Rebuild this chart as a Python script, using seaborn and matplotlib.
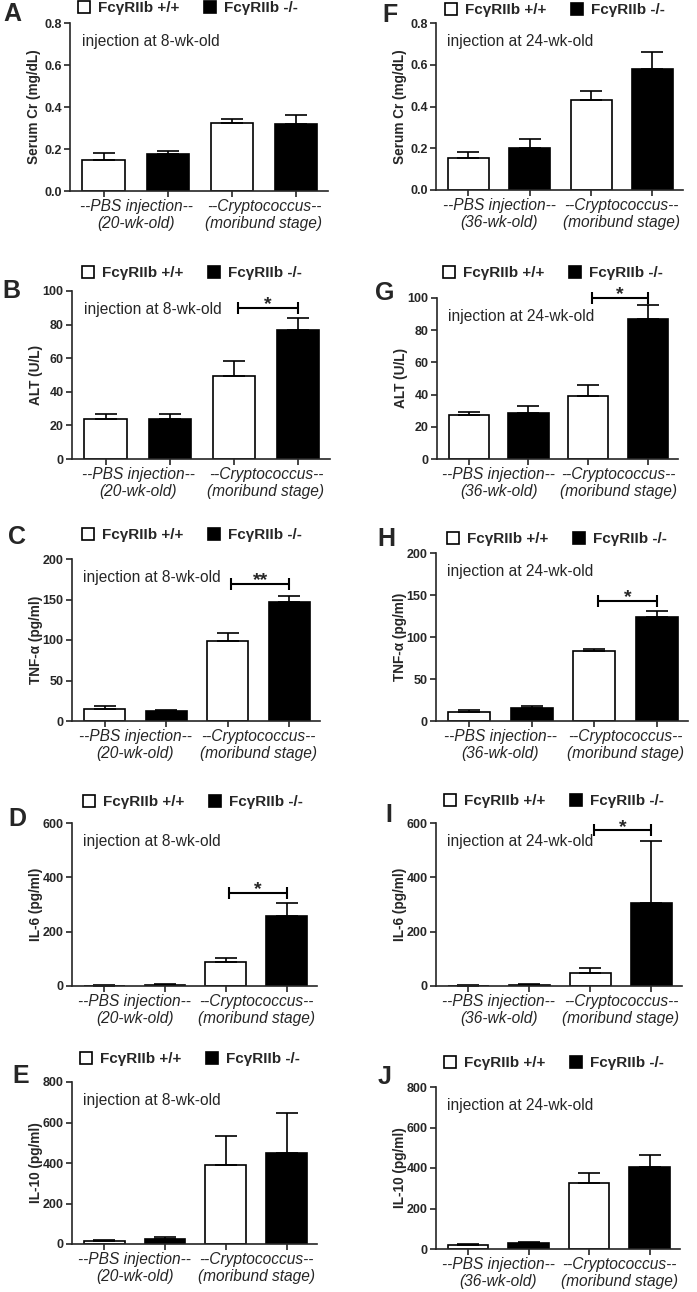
import matplotlib
matplotlib.use("Agg")
import matplotlib.pyplot as plt
from matplotlib.patches import Patch
from matplotlib.ticker import FormatStrFormatter
import pandas as pd
import seaborn as sns

sns.set_style("ticks")
plt.rcParams["font.family"] = ["Liberation Sans", "DejaVu Sans"]

W, H = 697, 1292

# --- data (mean, SEM) ---
genotypes = ["FcγRIIb +/+", "FcγRIIb -/-"]
bar_genotype = [genotypes[0], genotypes[1], genotypes[0], genotypes[1]]
bar_names = ["PBS +/+", "PBS -/-", "Crypto +/+", "Crypto -/-"]
groups_8wk = ["--PBS injection--\n(20-wk-old)", "--Cryptococcus--\n(moribund stage)"]
groups_24wk = ["--PBS injection--\n(36-wk-old)", "--Cryptococcus--\n(moribund stage)"]

cr_8_mean = [0.148, 0.177, 0.326, 0.318]
cr_8_sem = [0.032, 0.013, 0.019, 0.045]
cr_24_mean = [0.152, 0.203, 0.432, 0.579]
cr_24_sem = [0.032, 0.040, 0.043, 0.080]

alt_8_mean = [23.8, 23.8, 49.3, 77.0]
alt_8_sem = [2.9, 2.9, 9.1, 7.0]
alt_24_mean = [27.3, 28.7, 39.0, 86.8]
alt_24_sem = [1.6, 4.3, 6.9, 9.1]

tnf_8_mean = [15.3, 12.8, 99.2, 147.0]
tnf_8_sem = [2.9, 0.4, 9.8, 7.5]
tnf_24_mean = [10.7, 15.9, 82.9, 123.8]
tnf_24_sem = [2.0, 2.0, 2.4, 7.5]

il6_8_mean = [1.5, 5.0, 88.7, 257.5]
il6_8_sem = [0.5, 1.2, 14.8, 46.5]
il6_24_mean = [1.5, 5.0, 48.0, 306.8]
il6_24_sem = [0.5, 2.0, 18.5, 225.2]

il10_8_mean = [16.5, 23.0, 388.0, 448.0]
il10_8_sem = [1.5, 10.0, 144.0, 198.0]
il10_24_mean = [19.8, 28.0, 325.0, 402.6]
il10_24_sem = [3.2, 8.0, 49.5, 59.4]

PALETTE = {genotypes[0]: "white", genotypes[1]: "black"}

# letter, mean, sem, ylabel, ymax, ystep, age, groups, sig(y, label),
# axes box px (left, top, right, bottom), legend px (x, y), letter px (x, y)
panels = [
    ("A", cr_8_mean, cr_8_sem, "Serum Cr (mg/dL)", 0.8, 0.2, "8", groups_8wk, None,
     (70, 23, 328, 191), (78, 8), (3, 14)),
    ("B", alt_8_mean, alt_8_sem, "ALT (U/L)", 100, 20, "8", groups_8wk, (90, "*"),
     (72, 291, 330, 459), (82, 273), (2, 291)),
    ("C", tnf_8_mean, tnf_8_sem, "TNF-α (pg/ml)", 200, 50, "8", groups_8wk, (169, "**"),
     (72, 559, 320, 721), (82, 535), (8, 537)),
    ("D", il6_8_mean, il6_8_sem, "IL-6 (pg/ml)", 600, 200, "8", groups_8wk, (344, "*"),
     (72, 823, 317, 986), (83, 802), (8, 819)),
    ("E", il10_8_mean, il10_8_sem, "IL-10 (pg/ml)", 800, 200, "8", groups_8wk, None,
     (72, 1082, 317, 1244), (80, 1059), (12, 1076)),
    ("F", cr_24_mean, cr_24_sem, "Serum Cr (mg/dL)", 0.8, 0.2, "24", groups_24wk, None,
     (436, 23, 683, 190), (445, 10), (382, 15)),
    ("G", alt_24_mean, alt_24_sem, "ALT (U/L)", 100, 20, "24", groups_24wk, (100, "*"),
     (437, 298, 678, 459), (443, 273), (375, 293)),
    ("H", tnf_24_mean, tnf_24_sem, "TNF-α (pg/ml)", 200, 50, "24", groups_24wk, (143, "*"),
     (436, 553, 688, 721), (447, 539), (377, 539)),
    ("I", il6_24_mean, il6_24_sem, "IL-6 (pg/ml)", 600, 200, "24", groups_24wk, (573, "*"),
     (436, 823, 682, 986), (444, 801), (385, 815)),
    ("J", il10_24_mean, il10_24_sem, "IL-10 (pg/ml)", 800, 200, "24", groups_24wk, None,
     (436, 1087, 680, 1249), (444, 1063), (378, 1077)),
]

LW = 1.2
fig = plt.figure(figsize=(W / 100, H / 100), dpi=100)


def draw_panel(letter, mean, sem, ylabel, ymax, ystep, age, groups, sig, box, leg, lpos):
    l, t, r, b = box
    ax = fig.add_axes([l / W, 1 - b / H, (r - l) / W, (b - t) / H])
    df = pd.DataFrame({"bar": bar_names, "genotype": bar_genotype, "value": mean})
    sns.barplot(data=df, x="bar", y="value", hue="genotype", order=bar_names,
                palette=PALETTE, dodge=False, width=0.67, errorbar=None,
                edgecolor="black", linewidth=LW, legend=False, ax=ax)
    ax.errorbar(range(4), mean, yerr=[[0] * 4, sem], fmt="none", ecolor="black",
                elinewidth=LW, capsize=8, capthick=LW, zorder=1)
    ax.set_xlim(-0.53, 3.5)
    ax.set_ylim(0, ymax)
    n = int(round(ymax / ystep))
    ax.set_yticks([i * ystep for i in range(n + 1)])
    if ymax < 1:
        ax.yaxis.set_major_formatter(FormatStrFormatter("%.1f"))
    ax.set_xticks(range(4))
    ax.set_xticklabels([""] * 4)
    ax.set_xlabel("")
    ax.set_ylabel(ylabel, fontsize=9.8, fontweight="bold")
    ax.yaxis.set_label_coords(-29 / (r - l), 0.5)
    for lab in ax.get_yticklabels():
        lab.set_fontweight("bold")
        lab.set_fontsize(9)
    ax.tick_params(width=LW, length=4, pad=2)
    sns.despine(ax=ax)
    for s in ("left", "bottom"):
        ax.spines[s].set_linewidth(LW)

    for gx, g in zip((0.5, 2.5), groups):
        ax.annotate(g, xy=(gx, 0), xycoords=("data", "axes fraction"),
                    xytext=(0, -6), textcoords="offset points",
                    ha="center", va="top", fontsize=11.2, style="italic",
                    linespacing=1.15)

    ax.text(0.045, 0.888, f"injection at {age}-wk-old", transform=ax.transAxes,
            fontsize=11.2, va="center", ha="left")

    if sig is not None:
        y, star = sig
        ax.plot([2.06, 3.0], [y, y], color="black", lw=1.5, marker="|",
                markersize=8, mew=1.5, clip_on=False)
        ax.annotate(star, xy=(2.53, y), xytext=(0, -1), textcoords="offset points",
                    ha="center", va="baseline", fontsize=14, fontweight="bold",
                    annotation_clip=False)

    handles = [Patch(facecolor=PALETTE[g], edgecolor="black", linewidth=LW) for g in genotypes]
    ax.legend(handles, genotypes, loc="center left",
              bbox_to_anchor=(leg[0] / W, 1 - leg[1] / H), bbox_transform=fig.transFigure,
              ncol=2, frameon=False, borderpad=0, borderaxespad=0,
              handlelength=0.8, handleheight=0.8, handletextpad=0.5,
              columnspacing=1.6, prop={"weight": "bold", "size": 11})

    fig.text(lpos[0] / W, 1 - lpos[1] / H, letter, fontsize=18, fontweight="bold",
             ha="left", va="center")


for p in panels:
    draw_panel(*p)

fig.savefig("out.png", dpi=100)
